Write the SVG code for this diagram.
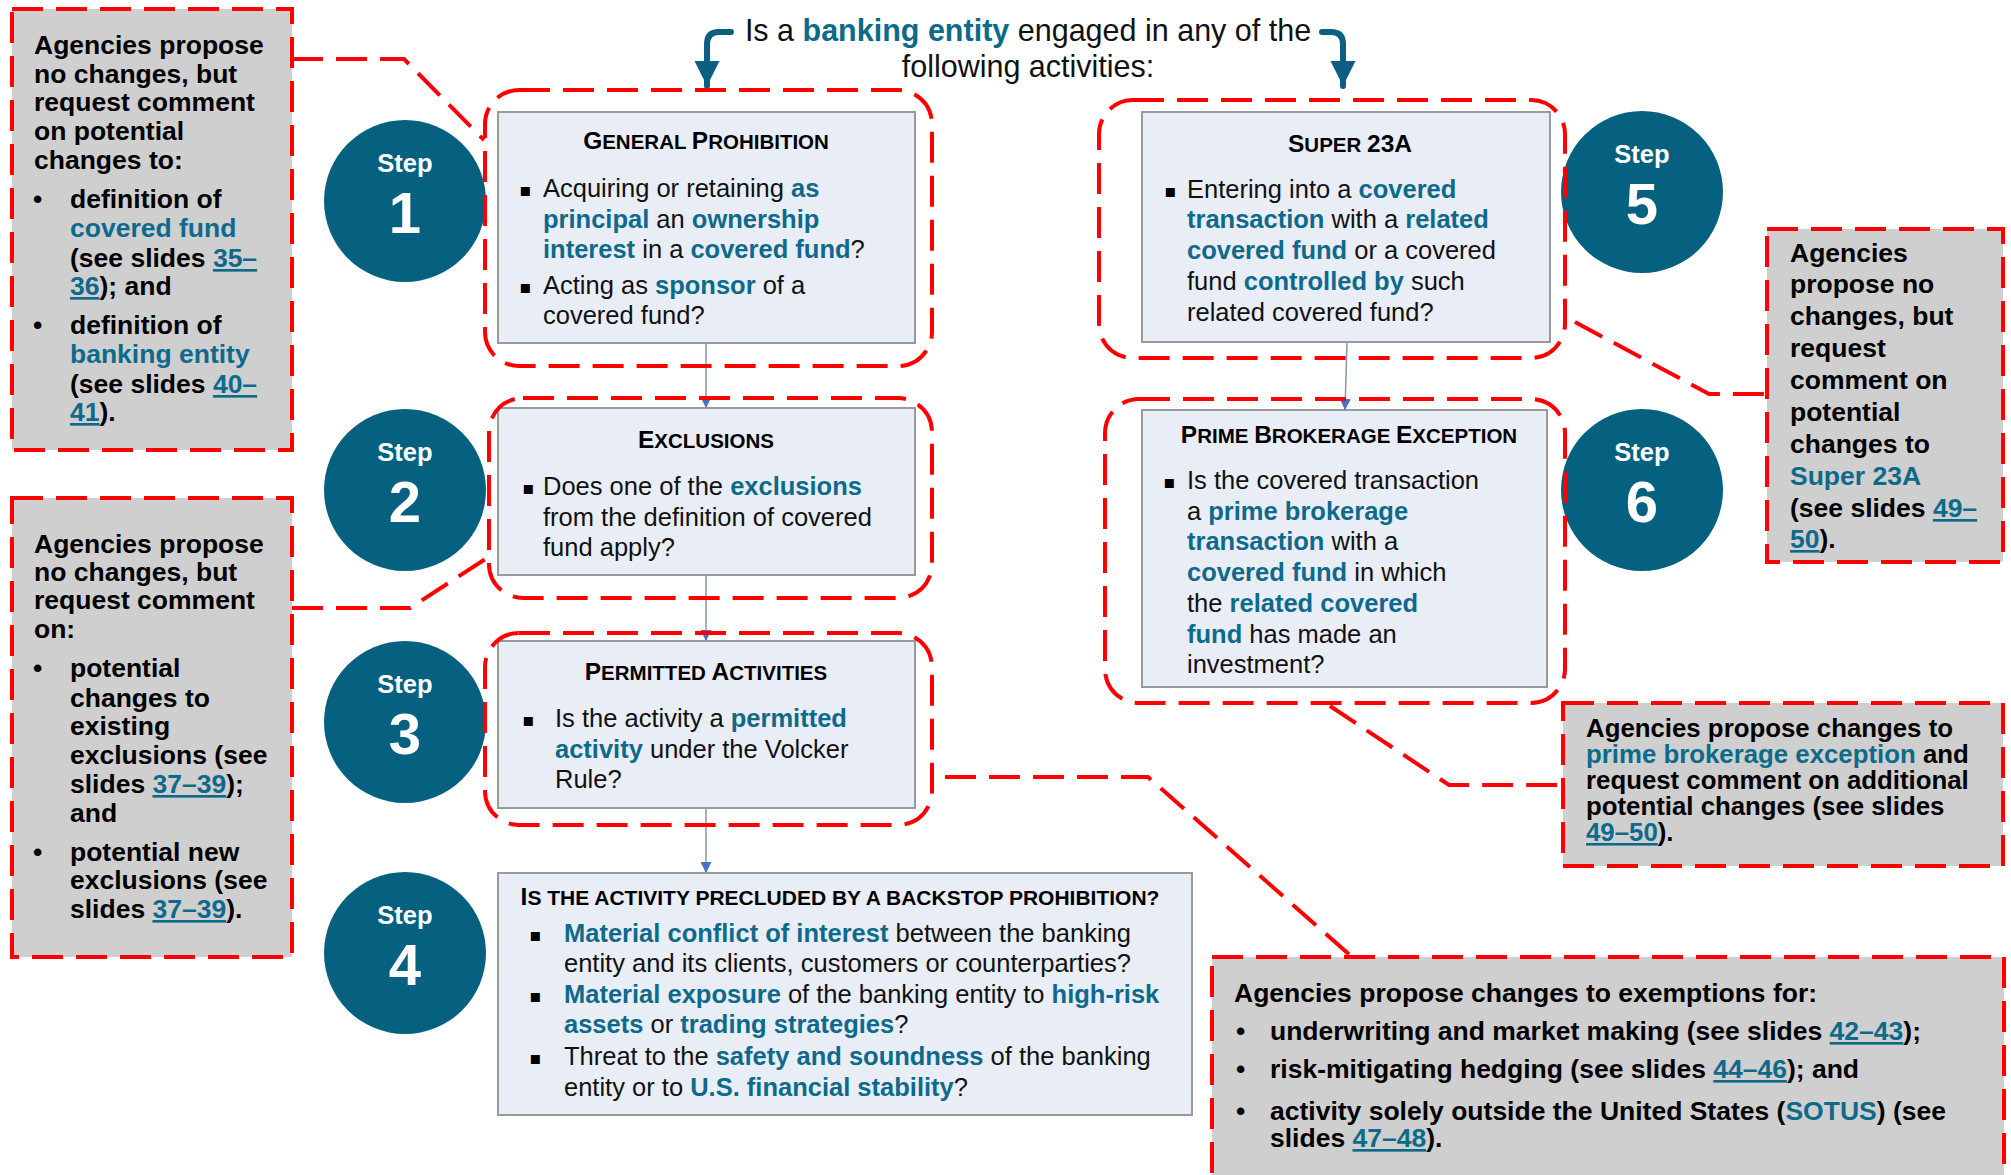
<svg xmlns="http://www.w3.org/2000/svg" width="2011" height="1175" viewBox="0 0 2011 1175">
<style>
text{font-family:"Liberation Sans",Arial,"DejaVu Sans",sans-serif;fill:#111}
.bd{font-size:25.5px}
.hl{fill:#0e6a8b;font-weight:bold}
.lk{fill:#0e6a8b;text-decoration:underline}
.co{font-size:26.5px;font-weight:bold;fill:#000}
.co2{font-size:25.8px;font-weight:bold;fill:#000}
.hd{font-size:30.5px;text-anchor:middle}
.dash{fill:none;stroke:#ff0000;stroke-width:4;stroke-dasharray:31 13}
.box{fill:#e9edf6;stroke:#9a9a9a;stroke-width:2}
.call{fill:#cfcfcf;stroke:#ff0000;stroke-width:4;stroke-dasharray:31 13}
.circ{fill:#05617f}
.stp{fill:#fff;font-weight:bold;font-size:25.5px;text-anchor:middle}
.num{fill:#fff;font-weight:bold;font-size:58px;text-anchor:middle}
.ttl{font-weight:bold;font-size:20.5px;text-anchor:middle;fill:#000}
.t4{font-size:21px}
.bc{font-size:24.5px}
.blt{font-size:18px;fill:#000;font-family:"DejaVu Sans",sans-serif}
.flow{fill:none;stroke:#8497b0;stroke-width:1.5}
.big{fill:none;stroke:#0b5f80;stroke-width:6;stroke-linecap:round}
</style>
<defs>
<marker id="ah" viewBox="0 0 10 10" refX="10" refY="5" markerWidth="12" markerHeight="11" markerUnits="userSpaceOnUse" orient="auto">
<path d="M0,0 L10,5 L0,10 z" fill="#4472c4"/>
</marker>
<marker id="bah" viewBox="0 0 10 10" refX="10" refY="5" markerWidth="25" markerHeight="27" markerUnits="userSpaceOnUse" orient="auto">
<path d="M0,0 L10,5 L0,10 z" fill="#0b5f80"/>
</marker>
</defs>
<rect width="2011" height="1175" fill="#fff"/>

<g id="title">
<text class="hd" x="1028" y="41">Is a <tspan class="hl">banking entity</tspan> engaged in any of the</text>
<text class="hd" x="1028" y="77">following activities:</text>
</g>

<g id="step1"><circle class="circ" cx="405" cy="201" r="81"/><text class="stp" x="405" y="172">Step</text><text class="num" x="405" y="233">1</text></g>
<g id="step2"><circle class="circ" cx="405" cy="490" r="81"/><text class="stp" x="405" y="461">Step</text><text class="num" x="405" y="522">2</text></g>
<g id="step3"><circle class="circ" cx="405" cy="722" r="81"/><text class="stp" x="405" y="693">Step</text><text class="num" x="405" y="754">3</text></g>
<g id="step4"><circle class="circ" cx="405" cy="953" r="81"/><text class="stp" x="405" y="924">Step</text><text class="num" x="405" y="985">4</text></g>
<g id="step5"><circle class="circ" cx="1642" cy="192" r="81"/><text class="stp" x="1642" y="163">Step</text><text class="num" x="1642" y="224">5</text></g>
<g id="step6"><circle class="circ" cx="1642" cy="490" r="81"/><text class="stp" x="1642" y="461">Step</text><text class="num" x="1642" y="522">6</text></g>

<g id="general-prohibition">
<rect class="box" x="498" y="112" width="417" height="231"/>
<text class="ttl" x="706" y="149"><tspan class="bc">G</tspan>ENERAL <tspan class="bc">P</tspan>ROHIBITION</text>
<text class="blt" x="519" y="196">▪</text>
<text class="bd" x="543" y="197">Acquiring or retaining <tspan class="hl">as</tspan></text>
<text class="bd" x="543" y="228"><tspan class="hl">principal</tspan> an <tspan class="hl">ownership</tspan></text>
<text class="bd" x="543" y="258"><tspan class="hl">interest</tspan> in a <tspan class="hl">covered fund</tspan>?</text>
<text class="blt" x="519" y="293">▪</text>
<text class="bd" x="543" y="294">Acting as <tspan class="hl">sponsor</tspan> of a</text>
<text class="bd" x="543" y="324">covered fund?</text>
</g>

<g id="exclusions">
<rect class="box" x="498" y="408" width="417" height="167"/>
<text class="ttl" x="706" y="448"><tspan class="bc">E</tspan>XCLUSIONS</text>
<text class="blt" x="522" y="494">▪</text>
<text class="bd" x="543" y="495">Does one of the <tspan class="hl">exclusions</tspan></text>
<text class="bd" x="543" y="526">from the definition of covered</text>
<text class="bd" x="543" y="556">fund apply?</text>
</g>

<g id="permitted-activities">
<rect class="box" x="498" y="641" width="417" height="167"/>
<text class="ttl" x="706" y="680"><tspan class="bc">P</tspan>ERMITTED <tspan class="bc">A</tspan>CTIVITIES</text>
<text class="blt" x="522" y="726">▪</text>
<text class="bd" x="555" y="727">Is the activity a <tspan class="hl">permitted</tspan></text>
<text class="bd" x="555" y="758"><tspan class="hl">activity</tspan> under the Volcker</text>
<text class="bd" x="555" y="788">Rule?</text>
</g>

<g id="backstop">
<rect class="box" x="498" y="873" width="694" height="242"/>
<text class="ttl t4" x="840" y="905"><tspan class="bc">I</tspan>S THE ACTIVITY PRECLUDED BY A BACKSTOP PROHIBITION?</text>
<text class="blt" x="529" y="941">▪</text>
<text class="bd" x="564" y="942"><tspan class="hl">Material conflict of interest</tspan> between the banking</text>
<text class="bd" x="564" y="972">entity and its clients, customers or counterparties?</text>
<text class="blt" x="529" y="1002">▪</text>
<text class="bd" x="564" y="1003"><tspan class="hl">Material exposure</tspan> of the banking entity to <tspan class="hl">high-risk</tspan></text>
<text class="bd" x="564" y="1033"><tspan class="hl">assets</tspan> or <tspan class="hl">trading strategies</tspan>?</text>
<text class="blt" x="529" y="1064">▪</text>
<text class="bd" x="564" y="1065">Threat to the <tspan class="hl">safety and soundness</tspan> of the banking</text>
<text class="bd" x="564" y="1096">entity or to <tspan class="hl">U.S. financial stability</tspan>?</text>
</g>

<g id="super-23a">
<rect class="box" x="1142" y="112" width="408" height="230"/>
<text class="ttl" x="1350" y="152"><tspan class="bc">S</tspan>UPER <tspan class="bc">23A</tspan></text>
<text class="blt" x="1164" y="197">▪</text>
<text class="bd" x="1187" y="198">Entering into a <tspan class="hl">covered</tspan></text>
<text class="bd" x="1187" y="228"><tspan class="hl">transaction</tspan> with a <tspan class="hl">related</tspan></text>
<text class="bd" x="1187" y="259"><tspan class="hl">covered fund</tspan> or a covered</text>
<text class="bd" x="1187" y="290">fund <tspan class="hl">controlled by</tspan> such</text>
<text class="bd" x="1187" y="321">related covered fund?</text>
</g>

<g id="prime-brokerage">
<rect class="box" x="1142" y="410" width="405" height="277"/>
<text class="ttl" x="1349" y="443"><tspan class="bc">P</tspan>RIME <tspan class="bc">B</tspan>ROKERAGE <tspan class="bc">E</tspan>XCEPTION</text>
<text class="blt" x="1163" y="488">▪</text>
<text class="bd" x="1187" y="489">Is the covered transaction</text>
<text class="bd" x="1187" y="520">a <tspan class="hl">prime brokerage</tspan></text>
<text class="bd" x="1187" y="550"><tspan class="hl">transaction</tspan> with a</text>
<text class="bd" x="1187" y="581"><tspan class="hl">covered fund</tspan> in which</text>
<text class="bd" x="1187" y="612">the <tspan class="hl">related covered</tspan></text>
<text class="bd" x="1187" y="643"><tspan class="hl">fund</tspan> has made an</text>
<text class="bd" x="1187" y="673">investment?</text>
</g>

<g id="callout-1">
<rect class="call" x="12" y="9" width="280" height="441"/>
<text class="co" x="34" y="54">Agencies propose</text>
<text class="co" x="34" y="83">no changes, but</text>
<text class="co" x="34" y="111">request comment</text>
<text class="co" x="34" y="140">on potential</text>
<text class="co" x="34" y="169">changes to:</text>
<text class="co" x="33" y="208">•</text>
<text class="co" x="70" y="208">definition of</text>
<text class="co" x="70" y="237"><tspan class="hl">covered fund</tspan></text>
<text class="co" x="70" y="267">(see slides <tspan class="lk">35–</tspan></text>
<text class="co" x="70" y="295"><tspan class="lk">36</tspan>); and</text>
<text class="co" x="33" y="334">•</text>
<text class="co" x="70" y="334">definition of</text>
<text class="co" x="70" y="363"><tspan class="hl">banking entity</tspan></text>
<text class="co" x="70" y="393">(see slides <tspan class="lk">40–</tspan></text>
<text class="co" x="70" y="421"><tspan class="lk">41</tspan>).</text>
</g>

<g id="callout-2">
<rect class="call" x="12" y="498" width="280" height="459"/>
<text class="co" x="34" y="553">Agencies propose</text>
<text class="co" x="34" y="581">no changes, but</text>
<text class="co" x="34" y="609">request comment</text>
<text class="co" x="34" y="638">on:</text>
<text class="co" x="33" y="677">•</text>
<text class="co" x="70" y="677">potential</text>
<text class="co" x="70" y="707">changes to</text>
<text class="co" x="70" y="735">existing</text>
<text class="co" x="70" y="764">exclusions (see</text>
<text class="co" x="70" y="793">slides <tspan class="lk">37–39</tspan>);</text>
<text class="co" x="70" y="822">and</text>
<text class="co" x="33" y="861">•</text>
<text class="co" x="70" y="861">potential new</text>
<text class="co" x="70" y="889">exclusions (see</text>
<text class="co" x="70" y="918">slides <tspan class="lk">37–39</tspan>).</text>
</g>

<g id="callout-3">
<rect class="call" x="1767" y="229" width="236" height="333"/>
<text class="co" x="1790" y="262">Agencies</text>
<text class="co" x="1790" y="293">propose no</text>
<text class="co" x="1790" y="325">changes, but</text>
<text class="co" x="1790" y="357">request</text>
<text class="co" x="1790" y="389">comment on</text>
<text class="co" x="1790" y="421">potential</text>
<text class="co" x="1790" y="453">changes to</text>
<text class="co" x="1790" y="485"><tspan class="hl">Super 23A</tspan></text>
<text class="co" x="1790" y="517">(see slides <tspan class="lk">49–</tspan></text>
<text class="co" x="1790" y="548"><tspan class="lk">50</tspan>).</text>
</g>

<g id="callout-4">
<rect class="call" x="1563" y="703" width="440" height="163"/>
<text class="co2" x="1586" y="737">Agencies propose changes to</text>
<text class="co2" x="1586" y="763"><tspan class="hl">prime brokerage exception</tspan> and</text>
<text class="co2" x="1586" y="789">request comment on additional</text>
<text class="co2" x="1586" y="815">potential changes (see slides</text>
<text class="co2" x="1586" y="841"><tspan class="lk">49–50</tspan>).</text>
</g>

<g id="callout-5">
<rect class="call" x="1212" y="957" width="792" height="240"/>
<text class="co" x="1234" y="1002">Agencies propose changes to exemptions for:</text>
<text class="co" x="1236" y="1040">•</text>
<text class="co" x="1270" y="1040">underwriting and market making (see slides <tspan class="lk">42–43</tspan>);</text>
<text class="co" x="1236" y="1078">•</text>
<text class="co" x="1270" y="1078">risk-mitigating hedging (see slides <tspan class="lk">44–46</tspan>); and</text>
<text class="co" x="1236" y="1120">•</text>
<text class="co" x="1270" y="1120">activity solely outside the United States (<tspan class="hl">SOTUS</tspan>) (see</text>
<text class="co" x="1270" y="1147">slides <tspan class="lk">47–48</tspan>).</text>
</g>

<g id="connectors">
<path class="big" d="M731,32 H719 Q707,32 707,44 V86" marker-end="url(#bah)"/>
<path class="big" d="M1322,32 H1331 Q1343,32 1343,44 V86" marker-end="url(#bah)"/>
<line class="flow" x1="706" y1="343" x2="706" y2="408" marker-end="url(#ah)"/>
<line class="flow" x1="706" y1="575" x2="706" y2="641" marker-end="url(#ah)"/>
<line class="flow" x1="706" y1="808" x2="706" y2="873" marker-end="url(#ah)"/>
<line class="flow" x1="1347" y1="342" x2="1345" y2="410" marker-end="url(#ah)"/>
<rect class="dash" x="485" y="90" width="447" height="276" rx="34"/>
<rect class="dash" x="489" y="398" width="443" height="200" rx="34"/>
<rect class="dash" x="485" y="633" width="447" height="192" rx="34"/>
<rect class="dash" x="1099" y="100" width="466" height="258" rx="34"/>
<rect class="dash" x="1105" y="399" width="460" height="304" rx="34"/>
<path class="dash" d="M292,59 H404 L484,140"/>
<path class="dash" d="M292,608 H410 L487,558"/>
<path class="dash" d="M1575,322 L1709,394 H1767"/>
<path class="dash" d="M1330,706 L1449,785 H1563"/>
<path class="dash" d="M945,777 H1148 L1352,957"/>
</g>
</svg>
